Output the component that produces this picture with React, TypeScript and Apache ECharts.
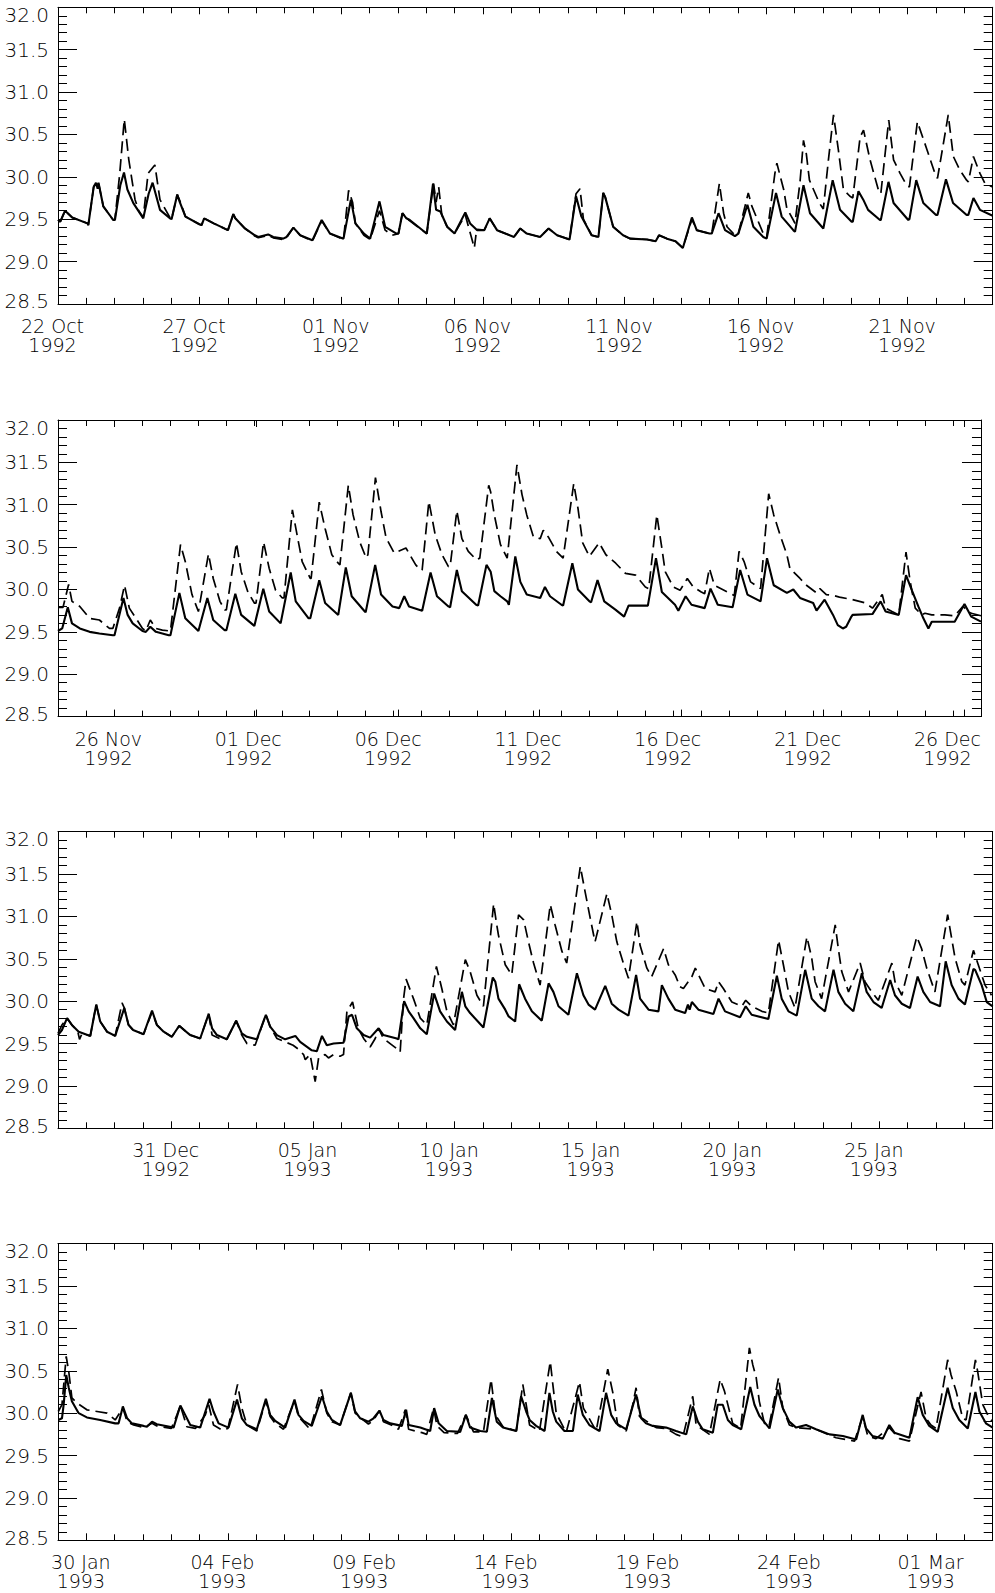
import React, { useEffect, useRef } from 'react';
import * as echarts from 'echarts';

// x values: days since 22 Oct 1992 00:00; y values: temperature
const panelRanges = [[0, 33], [33, 66], [66, 99], [99, 132]];
const panelLabelDays = [
  [0, 5, 10, 15, 20, 25, 30],
  [35, 40, 45, 50, 55, 60, 65],
  [70, 75, 80, 85, 90, 95],
  [100, 105, 110, 115, 120, 125, 130],
];
const yMin = 28.5;
const yMax = 32.0;
const yStep = 0.5;
const MONTHS = ['Jan', 'Feb', 'Mar', 'Apr', 'May', 'Jun', 'Jul', 'Aug', 'Sep', 'Oct', 'Nov', 'Dec'];

const p1Solid = [
  0.00,29.49, 0.08,29.47, 0.25,29.60, 0.50,29.52, 1.04,29.45, 1.07,29.43, 1.26,29.88, 1.34,29.93, 1.40,29.86, 1.43,29.93,
  1.60,29.65, 1.95,29.49, 2.01,29.49, 2.20,29.90, 2.33,30.05, 2.45,29.85, 2.66,29.69, 3.01,29.51, 3.20,29.80, 3.34,29.93,
  3.60,29.61, 3.95,29.51, 4.01,29.50, 4.21,29.79, 4.30,29.70, 4.50,29.53, 4.99,29.44, 5.07,29.43, 5.16,29.51, 5.50,29.45,
  6.00,29.37, 6.19,29.56, 6.26,29.51, 6.60,29.39, 6.95,29.31, 7.07,29.29, 7.42,29.32, 7.60,29.29, 7.95,29.27, 8.07,29.29,
  8.31,29.40, 8.55,29.31, 8.98,29.25, 9.31,29.49, 9.60,29.33, 10.08,29.27, 10.34,29.73, 10.50,29.45, 10.80,29.33, 11.02,29.27,
  11.35,29.71, 11.55,29.41, 11.95,29.33, 12.02,29.33, 12.16,29.57, 12.30,29.51, 12.42,29.49, 12.98,29.34, 13.02,29.33, 13.24,29.92,
  13.28,29.80, 13.35,29.61, 13.50,29.59, 13.74,29.41, 14.00,29.33, 14.38,29.58, 14.55,29.45, 14.80,29.37, 15.05,29.37, 15.24,29.51,
  15.50,29.37, 16.10,29.29, 16.32,29.39, 16.55,29.33, 17.02,29.29, 17.32,29.39, 17.62,29.31, 18.06,29.26, 18.29,29.77, 18.48,29.53,
  18.84,29.31, 19.08,29.29, 19.25,29.81, 19.32,29.76, 19.60,29.41, 19.95,29.31, 20.20,29.27, 20.80,29.26, 21.10,29.24, 21.22,29.31,
  21.50,29.27, 21.80,29.24, 22.06,29.16, 22.38,29.52, 22.55,29.37, 23.00,29.33, 23.08,29.33, 23.32,29.57, 23.55,29.37, 23.90,29.30,
  24.02,29.33, 24.34,29.67, 24.55,29.41, 24.90,29.29, 25.02,29.27, 25.35,29.81, 25.55,29.53, 25.96,29.37, 26.02,29.35, 26.32,29.90,
  26.55,29.57, 27.02,29.39, 27.35,29.96, 27.61,29.61, 28.02,29.47, 28.06,29.47, 28.26,29.83, 28.43,29.73, 28.60,29.61, 29.02,29.49,
  29.05,29.49, 29.32,29.94, 29.50,29.69, 30.02,29.49, 30.06,29.50, 30.30,29.96, 30.55,29.69, 31.00,29.55, 31.05,29.55, 31.35,29.97,
  31.60,29.69, 32.08,29.55, 32.14,29.55, 32.32,29.75, 32.55,29.61, 33.00,29.54,
];

const p1Dashed = [
  0.00,29.49, 0.08,29.47, 0.25,29.60, 0.50,29.52, 1.04,29.45, 1.07,29.43, 1.26,29.88, 1.34,29.93, 1.43,29.93, 1.60,29.65,
  1.95,29.49, 2.01,29.50, 2.18,30.04, 2.34,30.68, 2.50,30.20, 2.72,29.73, 2.85,29.60, 3.01,29.52, 3.18,30.04, 3.42,30.14,
  3.60,29.73, 3.95,29.52, 4.01,29.50, 4.21,29.79, 4.30,29.72, 4.50,29.53, 4.99,29.44, 5.07,29.43, 5.16,29.51, 5.50,29.45,
  6.00,29.37, 6.19,29.56, 6.26,29.51, 6.60,29.39, 6.95,29.30, 7.07,29.28, 7.42,29.31, 7.60,29.28, 7.95,29.26, 8.07,29.28,
  8.31,29.40, 8.55,29.31, 8.98,29.24, 9.31,29.48, 9.60,29.33, 10.08,29.26, 10.26,29.84, 10.40,29.70, 10.50,29.45, 10.80,29.31,
  11.02,29.26, 11.35,29.60, 11.55,29.37, 11.80,29.31, 12.02,29.33, 12.16,29.57, 12.30,29.51, 12.42,29.48, 12.98,29.34, 13.02,29.33,
  13.26,29.92, 13.35,29.70, 13.44,29.88, 13.55,29.55, 13.74,29.41, 14.00,29.33, 14.38,29.55, 14.50,29.40, 14.60,29.28, 14.70,29.16,
  14.78,29.38, 15.05,29.37, 15.24,29.51, 15.50,29.37, 16.10,29.29, 16.32,29.39, 16.55,29.33, 17.02,29.29, 17.32,29.39, 17.62,29.31,
  18.06,29.26, 18.29,29.80, 18.43,29.86, 18.55,29.50, 18.84,29.31, 19.08,29.29, 19.25,29.81, 19.32,29.76, 19.60,29.41, 19.95,29.31,
  20.20,29.27, 20.80,29.26, 21.10,29.24, 21.22,29.31, 21.50,29.27, 21.80,29.24, 22.06,29.16, 22.38,29.50, 22.55,29.37, 23.00,29.33,
  23.08,29.33, 23.35,29.92, 23.50,29.57, 23.62,29.41, 23.90,29.31, 24.02,29.33, 24.37,29.81, 24.50,29.65, 24.90,29.33, 25.02,29.29,
  25.31,30.04, 25.38,30.16, 25.62,29.85, 25.73,29.63, 25.96,29.49, 26.02,29.45, 26.20,29.95, 26.32,30.43, 26.42,30.27, 26.53,29.96,
  26.88,29.69, 27.02,29.62, 27.20,30.20, 27.38,30.73, 27.55,30.32, 27.73,29.85, 27.96,29.77, 28.06,29.75, 28.32,30.47, 28.44,30.55,
  28.67,30.20, 28.96,29.85, 29.05,29.80, 29.33,30.67, 29.50,30.20, 29.73,30.04, 29.96,29.90, 30.06,29.88, 30.34,30.65, 30.68,30.32,
  30.96,30.04, 31.05,29.98, 31.43,30.73, 31.61,30.24, 31.84,30.08, 32.08,29.96, 32.14,29.94, 32.32,30.24, 32.55,30.04, 32.73,29.92,
  33.00,29.88,
];

const p2Solid = [
  33.00,29.51, 33.15,29.54, 33.35,29.79, 33.50,29.60, 33.78,29.54, 34.13,29.50, 34.48,29.48, 34.96,29.46, 35.02,29.46, 35.34,29.90,
  35.49,29.70, 35.67,29.60, 36.02,29.51, 36.14,29.50, 36.30,29.56, 36.50,29.50, 36.96,29.46, 37.02,29.46, 37.34,29.96, 37.55,29.66,
  38.02,29.51, 38.34,29.90, 38.55,29.64, 38.96,29.52, 39.02,29.52, 39.34,29.95, 39.55,29.70, 40.02,29.57, 40.34,30.01, 40.55,29.74,
  40.96,29.60, 41.32,30.20, 41.50,29.86, 41.96,29.66, 42.02,29.66, 42.34,30.11, 42.55,29.84, 43.02,29.70, 43.29,30.26, 43.50,29.92,
  43.97,29.74, 44.00,29.73, 44.34,30.29, 44.55,29.94, 44.96,29.80, 45.20,29.78, 45.38,29.92, 45.55,29.80, 46.02,29.75, 46.32,30.20,
  46.55,29.92, 46.96,29.80, 47.02,29.79, 47.26,30.23, 47.44,29.98, 47.95,29.82, 48.02,29.81, 48.32,30.29, 48.47,30.21, 48.60,29.98,
  48.82,29.92, 49.06,29.86, 49.12,29.82, 49.35,30.39, 49.53,30.09, 49.76,29.94, 50.24,29.90, 50.41,30.03, 50.59,29.92, 51.00,29.82,
  51.06,29.81, 51.39,30.31, 51.59,30.00, 52.00,29.86, 52.06,29.85, 52.29,30.11, 52.53,29.86, 52.94,29.76, 53.24,29.68, 53.40,29.81,
  53.98,29.81, 54.09,29.81, 54.38,30.37, 54.59,29.97, 55.06,29.82, 55.18,29.75, 55.44,29.92, 55.65,29.82, 56.12,29.78, 56.33,30.01,
  56.59,29.82, 57.12,29.79, 57.39,30.23, 57.65,29.94, 58.12,29.86, 58.35,30.37, 58.59,30.05, 59.06,29.96, 59.29,30.00, 59.53,29.90,
  60.00,29.84, 60.12,29.75, 60.41,29.88, 60.71,29.70, 60.88,29.58, 61.06,29.54, 61.18,29.56, 61.35,29.67, 61.41,29.70, 62.12,29.71,
  62.41,29.86, 62.59,29.74, 63.06,29.70, 63.32,30.17, 63.53,29.99, 63.76,29.80, 63.94,29.66, 64.12,29.54, 64.24,29.62, 65.06,29.62,
  65.41,29.83, 65.65,29.68, 66.00,29.62,
];

const p2Dashed = [
  33.00,29.79, 33.18,29.79, 33.38,30.06, 33.50,29.86, 33.78,29.80, 34.13,29.66, 34.48,29.64, 34.84,29.54, 34.96,29.54, 35.20,29.78,
  35.38,30.05, 35.55,29.78, 35.79,29.66, 36.02,29.54, 36.14,29.51, 36.30,29.64, 36.50,29.54, 36.73,29.52, 37.02,29.51, 37.38,30.53,
  37.55,30.33, 37.79,29.94, 38.02,29.74, 38.38,30.42, 38.55,30.13, 38.79,29.86, 38.96,29.76, 39.02,29.76, 39.38,30.55, 39.55,30.21,
  39.79,29.97, 40.02,29.84, 40.08,29.84, 40.35,30.56, 40.55,30.25, 40.78,29.99, 41.02,29.90, 41.08,29.90, 41.38,30.94, 41.55,30.64,
  41.73,30.33, 42.02,30.13, 42.05,30.13, 42.34,31.03, 42.55,30.72, 42.79,30.41, 43.02,30.31, 43.08,30.29, 43.38,31.23, 43.55,30.88,
  43.79,30.56, 44.02,30.37, 44.08,30.41, 44.35,31.32, 44.55,30.92, 44.73,30.61, 45.02,30.43, 45.44,30.49, 45.79,30.29, 45.96,30.23,
  46.02,30.23, 46.26,31.04, 46.49,30.64, 46.73,30.41, 46.96,30.27, 47.02,30.27, 47.26,30.93, 47.44,30.60, 47.67,30.45, 47.96,30.35,
  48.08,30.37, 48.40,31.23, 48.47,31.15, 48.60,30.88, 48.82,30.53, 49.06,30.37, 49.41,31.47, 49.59,31.12, 49.76,30.88, 50.00,30.62,
  50.24,30.60, 50.35,30.70, 50.53,30.62, 50.82,30.45, 51.06,30.37, 51.44,31.25, 51.59,30.96, 51.76,30.55, 52.00,30.39, 52.35,30.55,
  52.59,30.41, 52.94,30.31, 53.29,30.19, 53.65,30.17, 54.00,30.03, 54.12,30.01, 54.41,30.88, 54.59,30.49, 54.71,30.21, 55.00,30.03,
  55.24,29.99, 55.50,30.13, 55.71,30.03, 56.00,29.97, 56.12,29.95, 56.29,30.25, 56.47,30.05, 56.94,29.97, 57.18,29.93, 57.35,30.45,
  57.53,30.33, 57.76,30.09, 58.12,30.01, 58.41,31.13, 58.59,30.88, 58.82,30.64, 59.06,30.41, 59.18,30.23, 59.29,30.21, 59.53,30.13,
  59.76,30.05, 60.12,29.96, 60.24,30.01, 60.47,29.94, 60.71,29.93, 60.94,29.91, 61.41,29.88, 61.88,29.84, 62.12,29.78, 62.47,29.94,
  62.59,29.78, 62.82,29.74, 63.06,29.70, 63.32,30.44, 63.47,30.09, 63.65,29.78, 63.88,29.70, 64.00,29.72, 64.24,29.70, 64.71,29.70,
  65.06,29.69, 65.35,29.80, 65.65,29.72, 66.00,29.69,
];

const p3Solid = [
  66.00,29.60, 66.14,29.66, 66.32,29.80, 66.49,29.72, 66.73,29.64, 67.14,29.59, 67.35,29.96, 67.49,29.76, 67.73,29.64, 68.02,29.59,
  68.34,29.92, 68.49,29.72, 68.65,29.66, 69.02,29.61, 69.32,29.89, 69.49,29.72, 69.73,29.64, 70.02,29.58, 70.28,29.71, 70.45,29.66,
  70.67,29.60, 71.02,29.56, 71.32,29.85, 71.44,29.68, 71.61,29.60, 71.96,29.55, 72.29,29.77, 72.49,29.62, 72.67,29.58, 73.02,29.55,
  73.34,29.84, 73.49,29.70, 73.73,29.60, 74.02,29.55, 74.38,29.59, 74.55,29.52, 74.96,29.42, 75.14,29.41, 75.32,29.59, 75.49,29.48,
  75.73,29.50, 76.08,29.51, 76.26,29.82, 76.38,29.84, 76.55,29.68, 76.79,29.60, 77.02,29.57, 77.32,29.68, 77.49,29.60, 77.96,29.56,
  78.02,29.55, 78.22,30.00, 78.38,29.88, 78.55,29.80, 78.79,29.68, 79.02,29.61, 79.28,30.09, 79.49,29.88, 79.73,29.76, 80.02,29.66,
  80.26,30.11, 80.38,29.94, 80.55,29.86, 81.02,29.69, 81.35,30.28, 81.44,30.23, 81.55,30.03, 81.79,29.90, 81.91,29.82, 82.14,29.76,
  82.28,30.20, 82.49,30.03, 82.73,29.88, 83.08,29.77, 83.32,30.21, 83.49,30.11, 83.67,29.94, 84.02,29.84, 84.32,30.33, 84.55,30.07,
  84.73,29.96, 84.96,29.90, 85.32,30.18, 85.55,29.97, 85.79,29.90, 86.14,29.83, 86.41,30.31, 86.55,30.03, 86.85,29.90, 87.20,29.88,
  87.32,30.19, 87.55,30.03, 87.79,29.90, 88.14,29.86, 88.24,29.96, 88.30,29.90, 88.38,29.99, 88.61,29.90, 89.14,29.85, 89.32,30.03,
  89.55,29.88, 90.08,29.81, 90.28,29.94, 90.49,29.84, 91.08,29.79, 91.38,30.30, 91.55,30.03, 91.79,29.88, 92.08,29.83, 92.38,30.37,
  92.61,30.03, 92.85,29.94, 93.08,29.88, 93.38,30.37, 93.55,30.11, 93.79,29.97, 94.08,29.88, 94.38,30.33, 94.55,30.11, 94.79,29.99,
  95.08,29.92, 95.38,30.25, 95.55,30.07, 95.79,29.97, 96.08,29.92, 96.35,30.29, 96.55,30.11, 96.79,29.99, 97.14,29.94, 97.34,30.47,
  97.55,30.19, 97.79,30.03, 98.02,29.96, 98.32,30.38, 98.38,30.37, 98.61,30.19, 98.79,29.99, 99.00,29.94,
];

const p3Dashed = [
  66.00,29.62, 66.14,29.72, 66.32,29.80, 66.49,29.72, 66.70,29.64, 66.76,29.55, 66.85,29.62, 67.14,29.59, 67.35,29.96, 67.49,29.76,
  67.73,29.64, 68.02,29.59, 68.26,29.98, 68.34,29.92, 68.49,29.72, 68.65,29.66, 69.02,29.61, 69.32,29.87, 69.49,29.72, 69.73,29.64,
  70.02,29.58, 70.28,29.71, 70.67,29.60, 71.02,29.56, 71.32,29.85, 71.44,29.60, 71.70,29.56, 71.96,29.55, 72.29,29.77, 72.49,29.60,
  72.67,29.50, 72.96,29.48, 73.34,29.84, 73.49,29.70, 73.73,29.56, 74.02,29.52, 74.30,29.48, 74.50,29.43, 74.67,29.37, 74.73,29.31,
  74.90,29.37, 75.08,29.05, 75.20,29.33, 75.43,29.37, 75.55,29.33, 75.73,29.37, 75.96,29.35, 76.08,29.37, 76.20,29.88, 76.40,29.99,
  76.60,29.68, 76.79,29.56, 77.02,29.46, 77.20,29.56, 77.32,29.68, 77.49,29.56, 77.96,29.44, 78.08,29.40, 78.20,30.03, 78.29,30.26,
  78.55,30.03, 78.79,29.80, 79.02,29.72, 79.36,30.41, 79.55,30.15, 79.73,29.88, 79.96,29.72, 80.38,30.49, 80.55,30.35, 80.79,30.07,
  81.02,29.94, 81.38,31.15, 81.49,30.90, 81.55,30.78, 81.79,30.43, 82.02,30.31, 82.26,31.02, 82.44,30.96, 82.61,30.70, 82.79,30.45,
  83.02,30.19, 83.38,31.14, 83.55,30.90, 83.79,30.59, 83.96,30.45, 84.44,31.59, 84.61,31.29, 84.79,30.98, 84.96,30.70, 85.38,31.27,
  85.55,31.02, 85.73,30.70, 85.96,30.45, 86.14,30.27, 86.44,30.94, 86.55,30.66, 86.79,30.39, 86.96,30.29, 87.38,30.62, 87.55,30.43,
  87.79,30.31, 87.96,30.17, 88.08,30.15, 88.38,30.29, 88.50,30.39, 88.85,30.15, 89.20,30.11, 89.32,30.23, 89.49,30.15, 89.79,29.99,
  90.14,29.94, 90.28,30.01, 90.49,29.94, 90.85,29.88, 91.08,29.86, 91.44,30.72, 91.61,30.43, 91.79,30.11, 92.02,29.92, 92.44,30.76,
  92.61,30.51, 92.73,30.23, 92.96,30.03, 93.44,30.90, 93.55,30.62, 93.67,30.35, 93.91,30.11, 94.32,30.45, 94.49,30.23, 94.73,30.11,
  94.96,30.01, 95.44,30.45, 95.55,30.23, 95.67,30.15, 95.79,30.07, 96.32,30.76, 96.49,30.62, 96.67,30.39, 96.96,30.11, 97.41,31.02,
  97.49,30.86, 97.67,30.51, 97.91,30.23, 98.02,30.19, 98.32,30.60, 98.49,30.43, 98.73,30.19, 98.96,30.07,
];

const p4Solid = [
  99.01,29.92, 99.14,29.94, 99.20,30.10, 99.29,30.45, 99.38,30.30, 99.49,30.14, 99.73,30.00, 100.02,29.95, 100.49,29.92, 101.02,29.88,
  101.14,29.88, 101.29,30.08, 101.44,29.94, 101.61,29.88, 102.02,29.85, 102.14,29.84, 102.32,29.90, 102.49,29.87, 103.08,29.83, 103.32,30.09,
  103.49,29.98, 103.67,29.86, 104.02,29.83, 104.35,30.17, 104.49,30.02, 104.67,29.88, 105.02,29.83, 105.32,30.16, 105.49,29.94, 105.67,29.86,
  106.02,29.81, 106.34,30.17, 106.49,29.98, 106.67,29.91, 107.02,29.83, 107.35,30.16, 107.49,29.98, 107.67,29.91, 107.96,29.85, 108.32,30.20,
  108.49,30.02, 108.67,29.92, 108.96,29.86, 109.34,30.24, 109.49,30.02, 109.67,29.94, 109.96,29.90, 110.14,29.94, 110.35,30.03, 110.49,29.92,
  110.73,29.88, 111.14,29.85, 111.29,30.04, 111.38,29.86, 111.79,29.83, 112.14,29.79, 112.28,30.06, 112.44,29.88, 112.73,29.79, 113.20,29.78,
  113.40,29.98, 113.55,29.83, 113.91,29.79, 114.14,29.78, 114.32,30.18, 114.49,29.90, 114.71,29.83, 115.18,29.79, 115.35,30.20, 115.53,30.02,
  115.65,29.92, 115.88,29.85, 116.18,29.79, 116.35,30.24, 116.47,30.02, 116.59,29.90, 116.88,29.79, 117.18,29.79, 117.35,30.22, 117.53,29.98,
  117.76,29.86, 118.12,29.79, 118.35,30.24, 118.53,29.98, 118.71,29.88, 119.06,29.81, 119.41,30.22, 119.59,29.94, 119.76,29.88, 120.00,29.85,
  120.47,29.83, 120.82,29.79, 121.18,29.75, 121.41,30.08, 121.59,29.90, 121.76,29.81, 122.12,29.77, 122.29,30.10, 122.47,30.10, 122.65,29.92,
  122.82,29.86, 123.12,29.81, 123.44,30.31, 123.59,30.10, 123.76,29.97, 124.12,29.82, 124.41,30.28, 124.59,30.06, 124.82,29.90, 125.06,29.83,
  125.41,29.86, 125.76,29.81, 126.24,29.75, 126.71,29.73, 127.18,29.69, 127.41,29.98, 127.53,29.82, 127.76,29.73, 128.12,29.70, 128.35,29.86,
  128.53,29.77, 129.06,29.71, 129.35,30.19, 129.53,29.98, 129.76,29.85, 130.06,29.78, 130.41,30.30, 130.59,30.06, 130.82,29.92, 131.12,29.82,
  131.39,30.25, 131.53,30.02, 131.76,29.88, 132.00,29.83,
];

const p4Dashed = [
  99.01,30.02, 99.14,30.10, 99.29,30.67, 99.38,30.49, 99.49,30.18, 99.67,30.12, 100.02,30.04, 100.38,30.02, 100.73,30.00, 101.02,29.92,
  101.29,30.06, 101.44,29.90, 101.67,29.86, 102.02,29.83, 102.32,29.88, 102.49,29.85, 103.00,29.82, 103.20,29.98, 103.32,30.09, 103.55,29.84,
  103.85,29.82, 104.20,29.98, 104.32,30.10, 104.49,29.86, 104.80,29.80, 105.00,29.82, 105.34,30.34, 105.49,30.06, 105.67,29.86, 106.02,29.79,
  106.34,30.15, 106.49,29.96, 106.67,29.88, 106.96,29.81, 107.20,30.02, 107.35,30.14, 107.49,29.96, 107.90,29.81, 108.30,30.28, 108.49,30.00,
  108.67,29.90, 108.96,29.86, 109.34,30.24, 109.49,30.00, 109.96,29.87, 110.14,29.92, 110.35,30.03, 110.49,29.90, 110.85,29.85, 111.02,29.81,
  111.26,30.04, 111.38,29.81, 111.85,29.77, 112.02,29.75, 112.26,30.06, 112.38,29.85, 112.63,29.77, 113.10,29.76, 113.40,29.98, 113.67,29.78,
  114.02,29.78, 114.29,30.40, 114.44,29.98, 114.71,29.84, 115.18,29.79, 115.41,30.34, 115.53,30.10, 115.65,29.86, 116.00,29.79, 116.38,30.61,
  116.47,30.34, 116.59,30.00, 116.94,29.77, 117.41,30.37, 117.55,30.06, 118.00,29.79, 118.41,30.52, 118.59,30.24, 118.76,29.86, 119.06,29.79,
  119.29,30.10, 119.41,30.30, 119.53,29.96, 120.12,29.83, 120.47,29.82, 120.82,29.75, 121.06,29.72, 121.41,30.20, 121.53,29.86, 122.00,29.75,
  122.38,30.40, 122.53,30.26, 122.71,30.02, 122.82,29.88, 123.10,29.82, 123.41,30.77, 123.53,30.57, 123.65,30.42, 123.76,30.14, 123.94,29.88,
  124.10,29.84, 124.44,30.42, 124.59,30.06, 124.82,29.86, 125.06,29.83, 125.76,29.81, 126.47,29.71, 127.12,29.67, 127.41,29.96, 127.59,29.73,
  127.88,29.70, 128.35,29.83, 128.71,29.70, 129.06,29.67, 129.47,30.25, 129.65,29.94, 129.82,29.86, 130.00,29.82, 130.41,30.63, 130.53,30.45,
  130.71,30.26, 130.94,29.94, 131.06,29.92, 131.39,30.63, 131.47,30.49, 131.65,30.10, 131.88,29.94, 132.00,29.90,
];

const solidSeries = [p1Solid, p2Solid, p3Solid, p4Solid];
const dashedSeries = [p1Dashed, p2Dashed, p3Dashed, p4Dashed];

// layout (pixels)
const W = 995;
const H = 1593;
const gridLeft = 58;
const gridWidth = 934.7;
const gridHeight = 296.6;
const gridTops = [7.3, 420, 831.7, 1243.7];

const FONT = '"DejaVu Sans Light", "DejaVu Sans ExtraLight", "DejaVu Sans", sans-serif';
const INK = '#000';
const BASE = Date.UTC(1992, 9, 22);

function toPairs(a: number[]) {
  const out: number[][] = [];
  for (let i = 0; i + 1 < a.length; i += 2) out.push([a[i], a[i + 1]]);
  return out;
}

function dateParts(v: number) {
  const d = new Date(BASE + Math.round(v) * 86400000);
  const dd = String(d.getUTCDate()).padStart(2, '0');
  return [dd + ' ' + MONTHS[d.getUTCMonth()], String(d.getUTCFullYear())];
}

function buildOption() {
  const grid: any[] = [];
  const xAxis: any[] = [];
  const yAxis: any[] = [];
  const series: any[] = [];
  const line = { color: INK, width: 1 };
  const yText = { fontFamily: FONT, fontSize: 20, color: INK, fontWeight: 200 };
  const xText = { fontFamily: FONT, fontSize: 19, color: INK, fontWeight: 200 };

  panelRanges.forEach((rng, i) => {
    const [mn, mx] = rng;
    const labels = panelLabelDays[i];
    const g = { left: gridLeft, top: gridTops[i], width: gridWidth, height: gridHeight };
    grid.push({ ...g }); // main grid 2i
    grid.push({ ...g }); // overlay grid 2i+1 for labelled ticks

    const mainGrid = 2 * i;
    const overGrid = 2 * i + 1;

    xAxis.push({
      type: 'value', gridIndex: mainGrid, position: 'bottom', min: mn, max: mx, interval: 1,
      axisLine: { show: true, onZero: false, lineStyle: line },
      axisTick: { show: true, inside: true, length: 6, lineStyle: line },
      axisLabel: {
        show: true, customValues: labels, margin: 12.5, lineHeight: 19, ...xText,
        formatter: (v: number) => {
          const r = Math.round(v);
          if (labels.indexOf(r) < 0 || Math.abs(v - r) > 1e-6) return '';
          const [a, b] = dateParts(v);
          return '{d|' + a + '}\n{d|' + b + '}';
        },
        rich: { d: { ...xText, lineHeight: 19, padding: [0, 11, 0, 0] } },
      },
      splitLine: { show: false },
    });
    xAxis.push({
      type: 'value', gridIndex: mainGrid, position: 'top', min: mn, max: mx, interval: 1,
      axisLine: { show: true, onZero: false, lineStyle: line },
      axisTick: { show: true, inside: true, length: 6, lineStyle: line },
      axisLabel: { show: false },
      splitLine: { show: false },
    });
    xAxis.push({
      type: 'value', gridIndex: overGrid, position: 'bottom', min: mn, max: mx,
      axisLine: { show: false, onZero: false },
      axisTick: { show: true, inside: true, length: 7, customValues: labels, lineStyle: line },
      axisLabel: { show: false },
      splitLine: { show: false },
    });
    xAxis.push({
      type: 'value', gridIndex: overGrid, position: 'top', min: mn, max: mx,
      axisLine: { show: false, onZero: false },
      axisTick: { show: true, inside: true, length: 7, customValues: labels, lineStyle: line },
      axisLabel: { show: false },
      splitLine: { show: false },
    });

    const yCommon = {
      type: 'value', gridIndex: mainGrid, min: yMin, max: yMax, interval: yStep,
      axisLine: { show: true, onZero: false, lineStyle: line },
      axisTick: { show: true, inside: true, length: 19, lineStyle: line },
      minorTick: { show: true, splitNumber: 5, length: 9, lineStyle: line },
      splitLine: { show: false },
      minorSplitLine: { show: false },
    };
    yAxis.push({
      ...yCommon, position: 'left',
      axisLabel: {
        show: true, margin: 9, ...yText,
        formatter: (v: number) => {
          const s = v.toFixed(1);
          if (Math.abs(v - yMax) < 1e-6) return '{t|' + s + '}';
          if (Math.abs(v - yMin) < 1e-6) return '{b|' + s + '}';
          return s;
        },
        rich: {
          t: { ...yText, padding: [15, 0, 0, 0] },
          b: { ...yText, padding: [0, 0, 5, 0] },
        },
      },
    });
    yAxis.push({ ...yCommon, position: 'right', axisLabel: { show: false } });
    yAxis.push({ type: 'value', gridIndex: overGrid, min: yMin, max: yMax, show: false, axisLine: { onZero: false } });

    series.push({
      type: 'line', xAxisIndex: 4 * i, yAxisIndex: 3 * i, data: toPairs(dashedSeries[i]),
      showSymbol: false, symbol: 'none', silent: true, clip: true, z: 2,
      lineStyle: { color: INK, width: 1.7, type: [12, 6] },
    });
    series.push({
      type: 'line', xAxisIndex: 4 * i, yAxisIndex: 3 * i, data: toPairs(solidSeries[i]),
      showSymbol: false, symbol: 'none', silent: true, clip: true, z: 3,
      lineStyle: { color: INK, width: 2.1, type: 'solid' },
    });
  });

  return {
    animation: false,
    backgroundColor: '#fff',
    grid, xAxis, yAxis, series,
  };
}

export default function App() {
  const ref = useRef<HTMLDivElement>(null);
  useEffect(() => {
    document.body.style.margin = '0';
    if (!ref.current) return;
    const chart = echarts.init(ref.current, undefined, { renderer: 'svg', width: W, height: H });
    chart.setOption(buildOption() as any);
    return () => chart.dispose();
  }, []);
  return (
    <div
      ref={ref}
      style={{ position: 'absolute', left: 0, top: 0, width: W, height: H, background: '#fff' }}
    />
  );
}
